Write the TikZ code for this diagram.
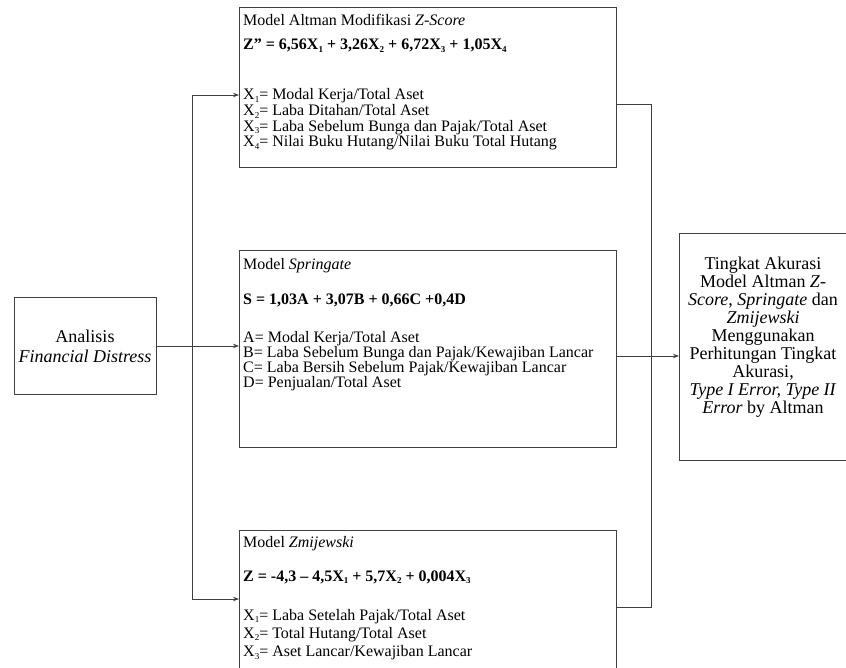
\documentclass[tikz,border=0pt]{standalone}
\usepackage{fontspec}
\setmainfont{Liberation Serif}
\usetikzlibrary{arrows.meta}
\newcommand\xs[1]{\raisebox{-0.35ex}{\fontsize{9}{9}\selectfont #1}}
\begin{document}
\begin{tikzpicture}[x=1pt,y=-1pt,
  box/.style={draw=black!75, line width=0.9pt, inner sep=0pt, anchor=north west},
  conn/.style={draw=black!75, line width=0.9pt},
  arr/.style={conn, -{Stealth[length=6pt,width=4.5pt]}},
  mtxt/.style={anchor=base west, inner sep=0pt, font=\fontsize{16}{14}\selectfont},
  ttxt/.style={anchor=base west, inner sep=0pt, font=\fontsize{16}{14.8}\selectfont},
  btxt/.style={anchor=base west, inner sep=0pt, font=\fontsize{16}{14}\selectfont\bfseries},
  ztxt/.style={anchor=base west, inner sep=0pt, font=\fontsize{16}{18.3}\selectfont},
  ctxt/.style={anchor=base, inner sep=0pt, font=\fontsize{18}{20}\selectfont},
  rtxt/.style={anchor=base, inner sep=0pt, font=\fontsize{18}{18}\selectfont}]
\fill[white] (0,0) rectangle (846,668);
\useasboundingbox (0,0) rectangle (846,668);

% boxes
\node[box, minimum width=377pt, minimum height=160pt] (tb) at (239,7) {};
\node[box, minimum width=377pt, minimum height=197pt] (mb) at (239,250) {};
\node[box, minimum width=377pt, minimum height=170pt] (zb) at (239,530) {};
\node[box, minimum width=142pt, minimum height=97pt] (lb) at (14,297) {};
\node[box, minimum width=175pt, minimum height=227pt] (rb) at (679,233) {};

% top box texts
\node[mtxt] (tbt) at (243,26) {Model Altman Modifikasi \textit{Z-Score}};
\node[btxt] (tbe) at (243,50) {Z” = 6,56X\xs{1} + 3,26X\xs{2} + 6,72X\xs{3} + 1,05X\xs{4}};
\node[ttxt] (tbd) at (243,100) {\begin{tabular}[t]{@{}l@{}}
X\xs{1}= Modal Kerja/Total Aset\\
X\xs{2}= Laba Ditahan/Total Aset\\
X\xs{3}= Laba Sebelum Bunga dan Pajak/Total Aset\\
X\xs{4}= Nilai Buku Hutang/Nilai Buku Total Hutang
\end{tabular}};

% middle box texts
\node[mtxt] (mbt) at (243,270) {Model \textit{Springate}};
\node[btxt] (mbe) at (243,305) {S = 1,03A + 3,07B + 0,66C +0,4D};
\node[mtxt] (mbd) at (243,342) {\begin{tabular}[t]{@{}l@{}}
A= Modal Kerja/Total Aset\\
B= Laba Sebelum Bunga dan Pajak/Kewajiban Lancar\\
C= Laba Bersih Sebelum Pajak/Kewajiban Lancar\\
D= Penjualan/Total Aset
\end{tabular}};

% bottom box texts
\node[mtxt] (zbt) at (243,547) {Model \textit{Zmijewski}};
\node[btxt] (zbe) at (243,581) {Z = -4,3 – 4,5X\xs{1} + 5,7X\xs{2} + 0,004X\xs{3}};
\node[ztxt] (zbd) at (243,620) {\begin{tabular}[t]{@{}l@{}}
X\xs{1}= Laba Setelah Pajak/Total Aset\\
X\xs{2}= Total Hutang/Total Aset\\
X\xs{3}= Aset Lancar/Kewajiban Lancar
\end{tabular}};

% left box text
\node[ctxt] (lbt) at (85,342) {\begin{tabular}[t]{@{}c@{}}
Analisis\\
\textit{Financial Distress}
\end{tabular}};

% right box text
\node[rtxt] (rbt) at (763,270) {\begin{tabular}[t]{@{}c@{}}
Tingkat Akurasi\\
Model Altman \textit{Z-}\\
\textit{Score}, \textit{Springate} dan\\
\textit{Zmijewski}\\
Menggunakan\\
Perhitungan Tingkat\\
Akurasi,\\
\textit{Type I Error, Type II}\\
\textit{Error} by Altman
\end{tabular}};

% connectors
\coordinate (ja) at (192,95);
\coordinate (jb) at (192,599);
\draw[conn] (ja) -- (jb);
\draw[arr] (ja) -- (ja -| tb.west);
\draw[arr] (jb) -- (jb -| zb.west);
\draw[arr] (lb.east) -- (lb.east -| mb.west);

\coordinate (ka) at (651,104);
\coordinate (kb) at (651,607);
\coordinate (kc) at (651,356);
\draw[conn] (ka -| tb.east) -- (ka) -- (kb) -- (kb -| zb.east);
\draw[arr] (kc -| mb.east) -- (kc -| rb.west);
\end{tikzpicture}
\end{document}
